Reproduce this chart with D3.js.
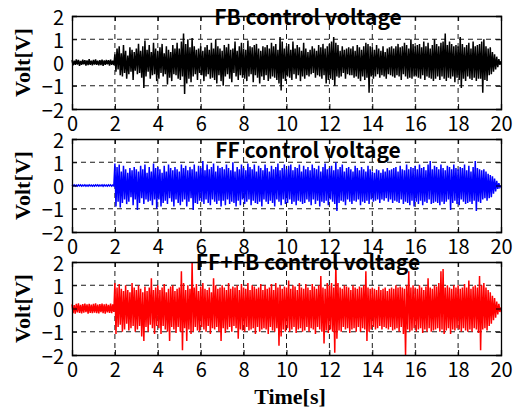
<!DOCTYPE html>
<html>
<head>
<meta charset="utf-8">
<script src="https://cdn.jsdelivr.net/npm/d3@7"></script>
<style>
  html, body { margin: 0; padding: 0; background: #fff; }
  svg { display: block; }
</style>
</head>
<body>
<svg></svg>
<script>
// values, 0.05 s apart, one row per second
let fbVolt = [
  0.1,-0.12,0.08,-0.1,0.13,-0.09,0.11,-0.14,0.07,-0.1,0.12,-0.08,0.1,-0.13,0.09,-0.11,0.14,-0.1,0.08,-0.12,
  0.11,-0.09,0.13,-0.1,0.08,-0.12,0.1,-0.11,0.12,-0.14,0.09,-0.1,0.11,-0.08,0.1,-0.13,0.12,-0.1,0.08,-0.11,
  0.35,-0.4,0.6,-0.3,0.7,-0.55,0.4,-0.6,0.75,-0.45,0.5,-0.7,0.3,-0.5,0.65,-0.4,0.55,-0.75,0.45,-0.35,
  0.6,-0.5,0.8,-0.45,0.5,-0.65,0.7,-1.1,0.95,-0.6,0.55,-0.4,0.75,-0.7,0.45,-0.55,0.85,-0.5,0.6,-0.8,
  0.5,-0.7,0.65,-0.45,0.8,-0.6,0.4,-0.5,0.7,-0.95,0.55,-0.65,0.45,-0.8,0.75,-0.5,0.6,-0.55,0.85,-0.7,
  0.6,-0.75,0.9,-0.6,1.25,-1.35,0.8,-0.9,1.0,-0.7,0.65,-0.85,1.05,-0.6,0.7,-0.5,0.55,-0.75,0.6,-0.45,
  0.7,-0.55,0.5,-0.8,0.65,-0.6,0.75,-0.5,0.55,-0.7,0.85,-0.65,0.6,-0.75,1.0,-0.9,0.7,-0.55,0.6,-0.8,
  0.5,-1.0,0.75,-0.6,0.65,-0.5,0.8,-0.7,0.55,-0.85,0.6,-0.45,0.9,-0.6,0.5,-0.75,0.7,-0.55,0.85,-0.65,
  0.6,-0.7,0.55,-0.8,0.95,-0.6,0.7,-0.5,0.65,-0.85,0.75,-0.55,0.8,-0.65,0.6,-0.9,0.5,-0.6,0.7,-0.75,
  0.65,-0.55,0.75,-0.8,0.6,-0.7,0.85,-0.6,0.7,-0.65,0.8,-0.75,0.55,-0.9,1.1,-1.2,0.9,-0.7,0.6,-0.8,
  0.7,-0.6,0.8,-0.65,0.55,-0.75,0.9,-0.5,0.6,-0.7,0.75,-0.55,0.65,-0.8,0.5,-0.6,0.85,-0.7,0.6,-0.55,
  0.45,-0.6,0.55,-0.5,0.7,-0.45,0.6,-0.65,0.5,-0.55,0.75,-0.6,0.65,-0.7,0.8,-0.55,0.6,-0.9,0.7,-0.75,
  0.8,-0.7,0.9,-0.75,1.1,-1.0,0.85,-0.6,0.75,-0.65,0.5,-0.6,0.7,-0.45,0.55,-0.7,0.6,-0.5,0.65,-0.55,
  0.6,-0.55,0.7,-0.65,0.5,-0.6,0.75,-0.7,0.65,-0.8,0.55,-0.6,0.7,-0.75,0.85,-0.65,0.8,-1.3,0.7,-0.6,
  0.65,-0.7,0.55,-0.6,0.75,-0.5,0.6,-0.65,0.5,-0.55,0.7,-0.6,0.45,-0.7,0.6,-0.5,0.65,-0.55,0.7,-0.6,
  0.6,-0.65,0.7,-0.55,0.8,-0.6,0.65,-0.75,0.7,-0.5,0.85,-0.6,0.75,-0.7,0.6,-0.65,1.0,-0.7,0.8,-0.6,
  0.7,-0.6,0.75,-0.65,0.8,-0.7,0.65,-0.55,0.9,-0.75,0.7,-0.6,0.85,-0.65,0.6,-0.7,0.75,-0.8,1.0,-0.7,
  0.8,-0.6,0.7,-0.75,0.85,-0.6,0.9,-0.7,1.25,-0.8,0.75,-0.65,0.9,-0.7,0.8,-0.6,0.7,-0.85,0.75,-0.65,
  0.7,-0.75,1.1,-1.1,0.8,-0.7,0.65,-0.8,0.75,-0.6,0.85,-0.7,0.6,-0.75,0.9,-0.65,0.7,-0.8,0.75,-0.7,
  0.8,-0.7,0.9,-1.3,1.0,-0.75,0.7,-0.8,0.6,-0.55,0.65,-0.5,0.45,-0.4,0.35,-0.3,0.25,-0.2,0.15,-0.1,
  0.05
]

let ffVolt = [
  0.03,-0.02,0.03,-0.03,0.02,-0.03,0.03,-0.02,0.03,-0.03,0.02,-0.02,0.03,-0.03,0.02,-0.03,0.03,-0.02,0.02,-0.03,
  0.02,-0.03,0.03,-0.02,0.03,-0.03,0.02,-0.02,0.03,-0.03,0.03,-0.02,0.02,-0.03,0.03,-0.02,0.03,-0.03,0.02,-0.02,
  0.95,-0.9,0.8,-0.7,0.9,-0.95,0.6,-0.75,0.85,-0.6,0.7,-0.8,0.55,-0.7,0.75,-0.5,0.65,-0.85,0.8,-0.6,
  0.7,-1.05,0.6,-0.75,0.85,-0.55,0.7,-0.8,0.9,-0.6,0.55,-0.7,0.8,-0.65,0.6,-0.85,0.95,-0.6,0.75,-1.0,
  0.8,-0.6,0.7,-0.9,0.55,-0.75,0.85,-0.65,0.6,-0.8,0.9,-0.55,0.75,-0.7,0.65,-0.9,0.8,-0.6,0.7,-0.75,
  0.6,-0.85,0.9,-0.7,0.75,-0.6,0.85,-0.9,0.65,-0.7,0.8,-0.55,0.7,-1.05,0.9,-0.75,0.6,-0.8,0.85,-0.65,
  0.75,-0.7,1.05,-0.8,0.65,-0.6,0.9,-0.75,0.7,-0.85,0.8,-0.6,0.95,-0.7,0.6,-0.8,0.85,-0.65,0.75,-0.9,
  0.8,-0.65,0.7,-0.85,0.9,-0.6,0.75,-0.8,0.65,-0.7,1.0,-0.75,0.6,-0.9,0.8,-0.65,0.7,-0.85,0.9,-0.6,
  0.75,-0.8,0.65,-0.7,0.95,-0.6,0.8,-0.85,0.7,-0.65,0.9,-0.75,0.6,-0.8,0.85,-0.7,0.75,-0.9,0.65,-0.6,
  0.9,-0.7,0.75,-0.8,0.6,-0.65,0.85,-0.75,0.7,-0.9,0.8,-0.6,0.95,-0.7,0.65,-0.85,0.75,-0.6,0.9,-0.8,
  0.7,-0.75,0.85,-0.6,0.9,-0.8,0.65,-0.7,0.8,-0.85,0.75,-0.65,0.9,-0.7,0.6,-0.8,0.85,-0.75,0.7,-0.6,
  0.8,-0.7,0.65,-0.85,0.9,-0.6,0.75,-0.8,0.7,-0.65,0.85,-0.9,0.6,-0.7,0.8,-0.75,0.95,-0.65,0.7,-0.85,
  0.75,-0.6,0.85,-0.7,0.65,-0.8,1.0,-1.1,0.7,-0.75,0.8,-0.65,0.9,-0.7,0.6,-0.85,0.75,-0.6,0.8,-0.7,
  0.7,-0.8,0.6,-0.65,0.85,-0.7,0.75,-0.6,0.65,-0.85,0.8,-0.7,0.7,-0.75,0.6,-0.65,0.85,-0.8,0.7,-0.6,
  0.6,-0.7,0.55,-0.65,0.7,-0.6,0.65,-0.75,0.55,-0.6,0.7,-0.65,0.6,-0.55,0.75,-0.7,0.65,-0.6,0.7,-0.75,
  0.75,-0.65,0.8,-0.7,0.6,-0.75,0.85,-0.6,0.7,-0.8,0.65,-0.7,0.9,-0.75,0.7,-0.85,0.8,-0.65,0.75,-0.9,
  0.85,-0.7,0.7,-0.8,0.9,-0.65,0.75,-0.85,0.8,-0.7,0.65,-0.75,0.9,-0.6,1.05,-0.8,0.7,-0.75,0.85,-0.7,
  0.8,-0.75,0.7,-0.85,0.9,-0.7,0.75,-0.8,0.65,-0.7,0.85,-0.6,0.8,-1.05,0.7,-0.75,0.9,-0.65,0.75,-0.8,
  0.7,-0.85,0.8,-0.6,0.75,-0.7,0.9,-0.8,0.65,-0.75,0.85,-0.7,0.6,-0.8,0.8,-0.65,1.05,-1.1,0.75,-0.7,
  0.7,-0.75,0.65,-0.6,0.7,-0.55,0.6,-0.65,0.5,-0.55,0.45,-0.5,0.4,-0.35,0.3,-0.25,0.2,-0.15,0.1,-0.08,
  0
]

let ffFbVolt = [
  0.18,-0.2,0.15,-0.22,0.2,-0.17,0.22,-0.19,0.16,-0.21,0.19,-0.18,0.21,-0.16,0.18,-0.22,0.2,-0.19,0.17,-0.2,
  0.2,-0.18,0.22,-0.2,0.17,-0.21,0.19,-0.16,0.21,-0.2,0.18,-0.22,0.2,-0.17,0.16,-0.19,0.21,-0.2,0.18,-0.15,
  1.1,-1.1,0.9,-0.8,1.05,-0.7,0.85,-1.0,0.75,-0.9,1.0,-0.65,0.8,-0.95,0.7,-0.85,1.1,-0.75,0.9,-1.0,
  0.8,-0.9,1.0,-0.75,0.85,-1.2,0.7,-1.4,0.95,-0.8,0.75,-1.0,0.9,-0.7,1.3,-0.85,0.8,-1.1,0.9,-0.75,
  1.0,-0.85,0.8,-1.1,0.9,-0.75,1.05,-0.9,0.7,-1.0,0.85,-1.4,0.95,-0.8,1.0,-0.9,0.75,-1.05,0.85,-0.8,
  0.9,-1.0,1.6,-1.8,1.1,-0.85,0.8,-1.4,1.0,-0.9,0.85,-1.1,2.0,-1.0,0.9,-0.8,1.05,-0.95,0.75,-1.0,
  0.95,-0.8,1.1,-0.9,0.85,-1.0,0.8,-0.75,0.9,-1.1,0.7,-0.85,1.3,-0.9,1.0,-0.8,0.85,-1.0,0.9,-1.4,
  1.0,-0.85,0.9,-1.05,0.8,-0.9,1.1,-0.8,0.85,-1.0,0.95,-0.75,0.9,-0.85,1.0,-1.3,0.8,-0.9,1.05,-0.95,
  0.9,-1.0,0.85,-0.8,1.1,-0.95,0.8,-0.9,1.0,-0.85,0.95,-1.1,0.85,-0.8,0.9,-1.0,1.05,-0.9,0.8,-0.85,
  1.0,-0.9,0.85,-1.1,0.9,-0.8,1.05,-0.95,0.8,-1.0,1.1,-0.85,0.9,-1.6,1.0,-1.2,0.85,-0.9,0.95,-1.0,
  0.9,-0.85,1.2,-1.0,0.85,-0.9,1.0,-0.8,0.95,-1.05,0.8,-0.9,1.1,-0.85,0.9,-1.0,0.85,-0.95,1.05,-0.8,
  0.9,-1.0,0.8,-0.85,1.05,-0.9,0.95,-1.1,0.85,-0.8,1.0,-0.9,1.4,-1.0,0.9,-1.5,0.85,-0.95,1.1,-1.05,
  1.0,-0.9,1.1,-1.0,0.9,-1.9,2.0,-1.3,1.1,-0.95,0.9,-1.0,0.85,-0.8,1.0,-0.9,0.95,-0.85,0.9,-1.05,
  0.8,-0.9,1.0,-0.85,0.9,-1.0,0.85,-0.8,0.95,-1.0,0.9,-0.85,1.0,-0.9,1.6,-1.4,0.9,-1.0,0.85,-0.9,
  0.9,-0.8,0.85,-0.9,0.8,-0.85,0.95,-0.75,0.8,-0.9,0.85,-0.8,0.9,-0.85,0.75,-0.9,0.85,-0.8,0.9,-0.95,
  0.85,-0.9,1.0,-0.85,0.9,-1.0,0.95,-0.8,0.9,-1.1,0.85,-2.0,1.0,-0.9,1.6,-1.0,0.9,-0.95,1.0,-0.85,
  0.9,-1.0,0.85,-0.9,1.0,-0.85,0.9,-1.05,0.8,-0.9,0.95,-1.0,1.3,-0.85,0.9,-1.0,0.85,-0.95,1.0,-0.9,
  0.95,-0.85,1.1,-1.0,1.6,-0.9,1.7,-1.1,0.9,-0.95,1.0,-0.85,0.9,-1.1,0.85,-0.9,1.0,-0.95,0.9,-0.85,
  1.0,-0.9,0.85,-1.0,0.9,-0.85,1.05,-0.95,0.9,-1.0,1.2,-0.9,0.85,-1.0,0.95,-0.85,1.0,-0.9,0.9,-1.05,
  1.4,-1.8,1.0,-0.9,1.1,-0.85,0.9,-0.95,0.8,-0.75,0.7,-0.65,0.55,-0.5,0.45,-0.4,0.3,-0.25,0.2,-0.15,
  0.05
]

let titles = ['FB control voltage', 'FF control voltage', 'FF+FB control voltage']
let colors = ['#000000', '#0000ff', '#ff0000']
let xTicks = [0, 2, 4, 6, 8, 10, 12, 14, 16, 18, 20]
let yTicks = [-2, -1, 0, 1, 2]
let timeSpan = [0, 20]
let voltSpan = [-2, 2]

/*
*  LAYOUT
*/
let width = 518,
    height = 412,
    left = 72,
    right = 501,
    panelTops = [16, 139, 262],
    panelH = 93,
    titleY = [25, 158, 270],
    titleX = 308,
    tickFont = '"Noto Sans CJK JP", "Noto Sans", sans-serif',
    labelFont = '"Liberation Serif", "DejaVu Serif", serif'

let svg = d3.select('svg')
svg.attr('width', width).attr('height', height)

let x = d3.scaleLinear().domain(timeSpan).range([left, right])

let series = [fbVolt, ffVolt, ffFbVolt]
series.forEach((vals, i) => drawPanel(vals, i))

svg.append('text')
  .attr('x', 290).attr('y', 404)
  .attr('text-anchor', 'middle')
  .style('font-family', labelFont)
  .style('font-weight', 'bold')
  .style('font-size', '22px')
  .text('Time[s]')

/*
*  HELPERS
*/
function drawPanel(vals, i){
  let top = panelTops[i]
  let y = d3.scaleLinear().domain(voltSpan).range([top + panelH, top])
  let step = (timeSpan[1] - timeSpan[0]) / (vals.length - 1)
  let g = svg.append('g').attr('class', 'panel')

  // grid
  g.selectAll('.vgrid')
    .data(xTicks.slice(1, -1))
    .enter().append('line')
    .attr('x1', d => x(d)).attr('x2', d => x(d))
    .attr('y1', top).attr('y2', top + panelH)
    .attr('stroke', '#000').attr('stroke-width', 0.9)
    .attr('stroke-dasharray', '5,4')
  g.selectAll('.hgrid')
    .data(yTicks.slice(1, -1))
    .enter().append('line')
    .attr('x1', left).attr('x2', right)
    .attr('y1', d => y(d)).attr('y2', d => y(d))
    .attr('stroke', '#000').attr('stroke-width', 0.9)
    .attr('stroke-dasharray', '5,4')

  // signal
  let line = d3.line()
    .x((d, k) => x(k * step))
    .y(d => y(d))
  g.append('path')
    .datum(vals)
    .attr('d', line)
    .attr('fill', 'none')
    .attr('stroke', colors[i])
    .attr('stroke-width', 1.5)
    .attr('stroke-linejoin', 'miter')

  // axes, ticks inward on all four sides
  let axB = d3.axisBottom(x).tickValues(xTicks).tickSize(-5).tickPadding(8).tickFormat(d3.format('d'))
  let axT = d3.axisTop(x).tickValues(xTicks).tickSize(-5).tickFormat('')
  let axL = d3.axisLeft(y).tickValues(yTicks).tickSize(-5).tickPadding(8)
    .tickFormat(d => d < 0 ? '\u2212' + Math.abs(d) : d)
  let axR = d3.axisRight(y).tickValues(yTicks).tickSize(-5).tickFormat('')

  let gb = g.append('g').attr('transform', `translate(0,${top + panelH})`).call(axB)
  g.append('g').attr('transform', `translate(0,${top})`).call(axT)
  let gl = g.append('g').attr('transform', `translate(${left},0)`).call(axL)
  g.append('g').attr('transform', `translate(${right},0)`).call(axR)

  g.selectAll('.domain').attr('stroke', '#000').attr('stroke-width', 1.3)
  g.selectAll('.tick line').attr('stroke', '#000')
  gb.selectAll('text')
    .attr('dy', '0.72em')
    .style('font-family', tickFont).style('font-size', '20px').attr('fill', '#000')
  gl.selectAll('text')
    .attr('dy', '0.4em')
    .style('font-family', tickFont).style('font-size', '20px').attr('fill', '#000')

  svg.append('text')
    .attr('transform', `translate(30,${top + panelH / 2}) rotate(-90)`)
    .attr('text-anchor', 'middle')
    .style('font-family', labelFont)
    .style('font-weight', 'bold')
    .style('font-size', '22px')
    .text('Volt[V]')

  svg.append('text')
    .attr('x', titleX).attr('y', titleY[i])
    .attr('text-anchor', 'middle')
    .style('font-family', tickFont)
    .style('font-weight', 'bold')
    .style('font-size', '21px')
    .text(titles[i])
}
</script>
</body>
</html>
